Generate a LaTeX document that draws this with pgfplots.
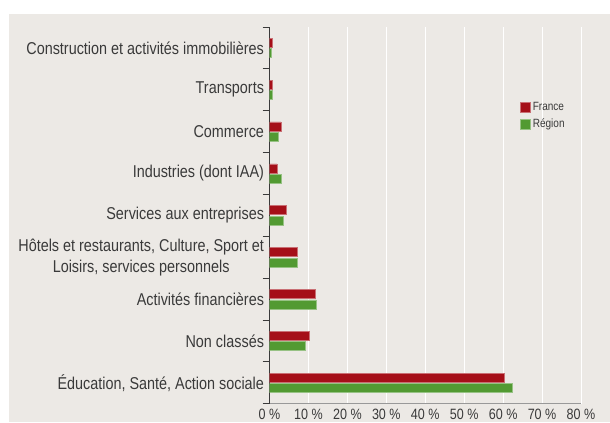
\documentclass[border=0pt]{standalone}
\usepackage{fontspec}
\setmainfont{Liberation Sans}[FakeStretch=0.84]
\usepackage{pgfplots}
\pgfplotsset{compat=1.18}
\definecolor{bg}{HTML}{ECE9E5}
\definecolor{fr}{HTML}{A50F18}
\definecolor{rg}{HTML}{529A32}
\definecolor{txt}{HTML}{3A3A3A}
\begin{document}
\begin{tikzpicture}[x=1bp,y=1bp]
\fill[white] (0,0) rectangle (610,422);
\fill[bg] (9,0) rectangle (610,408);
\useasboundingbox (0,0) rectangle (610,422);
\begin{axis}[
  at={(269.5bp,18.3bp)}, anchor=south west,
  scale only axis, width=311.5bp, height=376.7bp,
  xbar, bar width=9bp,
  xmin=0, xmax=80, ymin=-0.5, ymax=8.5,
  axis x line*=bottom, axis y line*=left,
  x axis line style={draw=gray!80, line width=1pt, -},
  y axis line style={draw=txt, line width=0.8pt, -},
  xtick={0,10,...,80},
  xticklabels={0 \%,10 \%,20 \%,30 \%,40 \%,50 \%,60 \%,70 \%,80 \%},
  xmajorgrids, major x grid style={white, line width=0.8pt},
  ytick={0,...,8},
  yticklabels={{Éducation, Santé, Action sociale}, Non classés, Activités financières, {Hôtels et restaurants, Culture, Sport et\\Loisirs, services personnels}, Services aux entreprises, Industries (dont IAA), Commerce, Transports, Construction et activités immobilières},
  minor ytick={-0.5,0.5,...,8.5},
  major tick length=0pt,
  minor tick length=7bp,
  tick align=outside,
  minor tick style={draw=txt, line width=0.8pt},
  xtick style={draw=none},
  yticklabel style={font=\fontsize{17.2}{21}\selectfont, text=txt, align=center, xshift=-2bp},
  xticklabel style={font=\fontsize{15}{18}\selectfont, text=txt, yshift=-2bp},
  legend style={at={(0.795,0.812)}, anchor=north west, draw=none, fill=none,
    font=\fontsize{12}{13}\selectfont, text=txt, row sep=3bp,
    legend cell align=left},
  legend image code/.code={\fill[#1] (0bp,-5bp) rectangle (10bp,5bp);},
]
\addplot[fill=fr, draw=fr!60!white, line width=0.5pt, bar shift=5.2bp] coordinates {
(60.4,0) (10.2,1) (11.8,2) (7.1,3) (4.4,4) (1.9,5) (2.9,6) (0.8,7) (0.7,8)};
\addplot[fill=rg, draw=rg!60!white, line width=0.5pt, bar shift=-5.3bp] coordinates {
(62.4,0) (9.3,1) (12.0,2) (7.0,3) (3.5,4) (3.1,5) (2.2,6) (0.6,7) (0.5,8)};
\legend{France, Région}
\end{axis}
\end{tikzpicture}
\end{document}
